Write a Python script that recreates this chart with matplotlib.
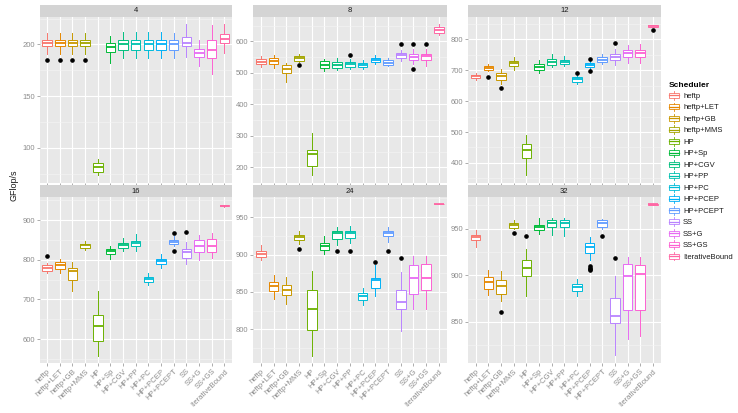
import matplotlib
matplotlib.use("Agg")
import matplotlib.pyplot as plt
from matplotlib.legend_handler import HandlerBase
from matplotlib.patches import Rectangle, Patch
from matplotlib.lines import Line2D

plt.rcParams['font.family'] = ['Liberation Sans', 'DejaVu Sans']

schedulers = ['heftp', 'heftp+LET', 'heftp+GB', 'heftp+MMS', 'HP', 'HP+Sp', 'HP+CGV',
              'HP+PP', 'HP+PC', 'HP+PCEP', 'HP+PCEPT', 'SS', 'SS+G', 'SS+GS', 'IterativeBound']
colors = ['#F8766D', '#E58700', '#C99800', '#A3A500', '#6BB100', '#00BA38', '#00BF7D',
          '#00C0AF', '#00BCD8', '#00B0F6', '#619CFF', '#B983FF', '#E76BF3', '#FD61D1', '#FF67A4']

# (whislo, q1, median, q3, whishi) per scheduler, one list per core count
stats_4 = [(191, 198.4, 201.5, 204.2, 210.6), (191, 198.4, 201.5, 204.2, 210.6),
           (191, 198.4, 201.5, 204.2, 210.6), (191, 198.4, 201.5, 204.2, 210.6),
           (74, 77, 81, 85, 89), (181.6, 192.3, 197.7, 201.5, 208),
           (186.5, 194.5, 200, 204.2, 212), (186.5, 194.5, 200, 204.2, 212),
           (186.5, 194.5, 200, 204.2, 212), (186.5, 194.5, 200, 204.2, 212),
           (187, 194.5, 200, 204, 211), (188, 198.6, 201.5, 207.3, 219.6),
           (179, 187.4, 191.9, 195.5, 204), (171.3, 186.5, 194.2, 204.2, 218.7),
           (191.3, 201, 205, 209.7, 219.6)]
out_4 = {0: [184.5], 1: [184.5], 2: [184.5], 3: [184.5]}

stats_8 = [(518, 527, 535.5, 543.8, 552), (516.5, 529, 537.5, 546, 555.6),
           (470.8, 499.4, 513, 523.8, 532), (535.5, 537.5, 546, 552, 561),
           (175, 203, 243.5, 256, 309), (505.7, 516.5, 526, 536.5, 545),
           (508, 516.5, 526, 534, 548), (511, 518.4, 527, 534, 543),
           (513, 518.4, 526, 532, 540), (527, 533, 542, 548, 558),
           (523, 526, 532, 539.7, 548), (537.5, 546, 558, 564, 573.6),
           (529, 539.7, 550, 561, 574.6), (520.6, 539.7, 552, 561, 576.8),
           (621, 627.6, 636, 645.4, 656)]
out_8 = {3: [524], 7: [555.6], 11: [592.7], 12: [592.7, 511], 13: [592.7]}

stats_12 = [(670, 675, 681, 686, 692), (697, 700, 707, 713.6, 720),
            (656.6, 669.6, 680, 691, 705), (702, 713.6, 723, 731, 742.7),
            (362, 417, 441, 460, 491.6), (691, 702, 711.6, 720, 732),
            (710, 717, 726.5, 735, 751.5), (712.6, 719, 728, 734, 745),
            (656.6, 663, 670.6, 677, 684.5), (705, 709, 717, 723, 729.8),
            (721, 725.6, 734, 742.7, 753.7), (718, 732, 742.7, 753.7, 770),
            (723, 742.7, 755.7, 764, 780.6), (723, 742.7, 757, 766.7, 783.8),
            (839, 841, 843, 845, 847)]
out_12 = {1: [679], 2: [642.4], 8: [692], 9: [735, 697.5], 11: [789], 14: [831]}

stats_16 = [(767, 772, 779.4, 786, 793), (767, 777, 787, 794.5, 802),
            (721, 750, 772, 778, 794.5), (824, 830.6, 836.4, 840.7, 847),
            (558, 596, 633.7, 662, 721), (802, 814.6, 821, 826, 835.7),
            (822, 830.6, 836.4, 842, 854.8), (822, 835.7, 843, 848, 864),
            (736, 745, 751, 756.8, 767), (780.4, 790.4, 797, 803, 813.8),
            (834, 839, 845.7, 850.8, 859), (790.4, 805.5, 819.6, 828, 844.7),
            (798.7, 820.6, 834.7, 849, 861.6), (805.5, 820.6, 834, 853, 867.3),
            (934, 935, 936.5, 938, 939)]
out_16 = {0: [808.8], 10: [866.6, 822], 11: [870]}

stats_24 = [(893.3, 896.8, 900.8, 904.8, 913.4), (841, 850.8, 857.5, 862.9, 873),
            (834.3, 846.4, 853, 859.8, 870), (914.7, 920, 923.6, 926.8, 931.6),
            (765, 798.5, 827.6, 853, 878), (901.3, 905.8, 911, 915.6, 924.5),
            (912.5, 921.4, 929.5, 931.2, 937), (915.6, 922.8, 929.5, 931.6, 938),
            (833, 838.7, 844.5, 848.5, 855.8), (844, 855, 866.5, 869, 886.6),
            (917, 924.5, 929, 931.6, 937), (797.6, 826.7, 836.5, 853, 876.7),
            (827.6, 847.7, 868.7, 886.6, 897.7), (827.6, 852, 868.7, 887, 897.7),
            (967, 967.3, 967.6, 968, 968.3)]
out_24 = {3: [907], 6: [904.4], 7: [904.8], 9: [890], 10: [904.4], 11: [895.5]}

stats_32 = [(930.3, 937.5, 940.7, 943.6, 949), (878.5, 885.7, 892.8, 898, 906),
            (872.4, 880.3, 889, 894.6, 904.6), (950, 951, 953.9, 956.4, 959),
            (877.8, 899.2, 908.2, 916, 927.8), (944, 949, 951.7, 954.3, 961.8),
            (943.6, 951.7, 956.4, 958.9, 961.4), (942, 951.7, 956.4, 958.9, 961.4),
            (877.4, 883.1, 887.4, 891, 896.4), (916, 924.3, 930.3, 934.6, 941),
            (950, 951.7, 956.4, 958.9, 960.7), (814.2, 849.3, 856.3, 876, 899.2),
            (832, 862.4, 899.2, 911.7, 919.6), (834.9, 863.2, 901, 911.4, 919.6),
            (975.6, 975.8, 976, 976.2, 976.4)]
out_32 = {2: [860.6], 3: [945.7], 4: [942], 9: [909.6, 908, 906.6, 905.5], 10: [941.7], 11: [918.5]}

panels = [('4', stats_4, out_4, (66, 227), [100, 150, 200]),
          ('8', stats_8, out_8, (151, 679), [200, 300, 400, 500, 600]),
          ('12', stats_12, out_12, (335, 874), [400, 500, 600, 700, 800]),
          ('16', stats_16, out_16, (540, 958), [600, 700, 800, 900]),
          ('24', stats_24, out_24, (755, 977), [800, 850, 900, 950]),
          ('32', stats_32, out_32, (806, 984), [850, 900, 950])]

W, H = 738, 413
fig = plt.figure(figsize=(W / 100, H / 100), dpi=100)

col_x = [(39.5, 232), (253.3, 446.5), (468, 660.5)]
row_y = [(16.5, 183), (197, 363)]
strip_h = 11.8

tick_col = '#8C8C8C'
for k, (title, stats, outs, ylim, yt) in enumerate(panels):
    r, c = divmod(k, 3)
    x0, x1 = col_x[c]
    y0, y1 = row_y[r]
    ax = fig.add_axes([x0 / W, 1 - y1 / H, (x1 - x0) / W, (y1 - y0) / H])
    sax = fig.add_axes([x0 / W, 1 - y0 / H, (x1 - x0) / W, strip_h / H])
    sax.set_facecolor('#D4D4D4')
    sax.set_xticks([]); sax.set_yticks([])
    for s in sax.spines.values():
        s.set_visible(False)
    sax.text(0.5, 0.5, title, ha='center', va='center', fontsize=5.5, color='#1A1A1A',
             transform=sax.transAxes)

    ax.set_facecolor('#E8E8E8')
    for s in ax.spines.values():
        s.set_visible(False)

    bstats = []
    for i, (lo, q1, med, q3, hi) in enumerate(stats):
        bstats.append({'whislo': lo, 'q1': q1, 'med': med, 'q3': q3, 'whishi': hi,
                       'fliers': outs.get(i, [])})
    pos = list(range(1, len(stats) + 1))
    bp = ax.bxp(bstats, positions=pos, widths=0.75, showcaps=False, patch_artist=True,
                boxprops=dict(facecolor='white', linewidth=0.7),
                whiskerprops=dict(linewidth=0.7),
                medianprops=dict(linewidth=1.3),
                flierprops=dict(marker='o', markersize=2.3, markerfacecolor='black',
                                markeredgecolor='black', linestyle='none'))
    for i, col in enumerate(colors):
        bp['boxes'][i].set_edgecolor(col)
        bp['medians'][i].set_color(col)
        bp['whiskers'][2 * i].set_color(col)
        bp['whiskers'][2 * i + 1].set_color(col)

    ax.set_xlim(0.4, len(stats) + 0.6)
    ax.set_ylim(*ylim)
    ax.set_yticks(yt)
    step = yt[1] - yt[0]
    minors = [yt[0] - step / 2 + step * j for j in range(len(yt) + 1)]
    ax.set_yticks(minors, minor=True)
    ax.set_xticks(pos)
    ax.grid(True, which='major', color='white', linewidth=0.8)
    ax.grid(True, which='minor', axis='y', color='#F5F5F5', linewidth=0.4)
    ax.set_axisbelow(True)
    ax.tick_params(axis='both', which='major', length=2, width=0.5, color=tick_col,
                   labelcolor=tick_col, labelsize=5.5, pad=1.5)
    ax.tick_params(axis='y', which='minor', length=0)
    if r == 1:
        ax.set_xticklabels(schedulers, rotation=45, ha='right', rotation_mode='anchor')
    else:
        ax.set_xticklabels([])

fig.text(14 / W, 1 - 185 / H, 'GFlop/s', rotation=90, ha='center', va='center',
         fontsize=6.5, color='#1A1A1A')


class BoxKey(HandlerBase):
    def create_artists(self, legend, orig_handle, xd, yd, w, h, fontsize, trans):
        c = orig_handle.get_edgecolor()
        x0, y0 = -xd, -yd
        cx = x0 + w / 2
        box = Rectangle((x0 + 0.08 * w, y0 + 0.22 * h), 0.84 * w, 0.56 * h,
                        facecolor='white', edgecolor=c, linewidth=0.6, transform=trans)
        med = Line2D([x0 + 0.08 * w, x0 + 0.92 * w], [y0 + 0.5 * h] * 2, color=c,
                     linewidth=0.9, transform=trans)
        w1 = Line2D([cx, cx], [y0, y0 + 0.22 * h], color=c, linewidth=0.6, transform=trans)
        w2 = Line2D([cx, cx], [y0 + 0.78 * h, y0 + h], color=c, linewidth=0.6, transform=trans)
        return [box, med, w1, w2]


handles = [Patch(facecolor='white', edgecolor=col) for col in colors]
leg = fig.legend(handles, schedulers, loc='upper left', bbox_to_anchor=(667 / W, 1 - 80 / H),
                 frameon=False, title='Scheduler', fontsize=5.5, title_fontsize=6,
                 handler_map={Patch: BoxKey()}, handlelength=1.45, handleheight=1.4,
                 labelspacing=0.33, handletextpad=0.45, borderaxespad=0, borderpad=0.2,
                 alignment='left')
leg.get_title().set_fontweight('bold')
for t in leg.get_texts():
    t.set_color('#1A1A1A')

fig.savefig('out.png', dpi=100)
